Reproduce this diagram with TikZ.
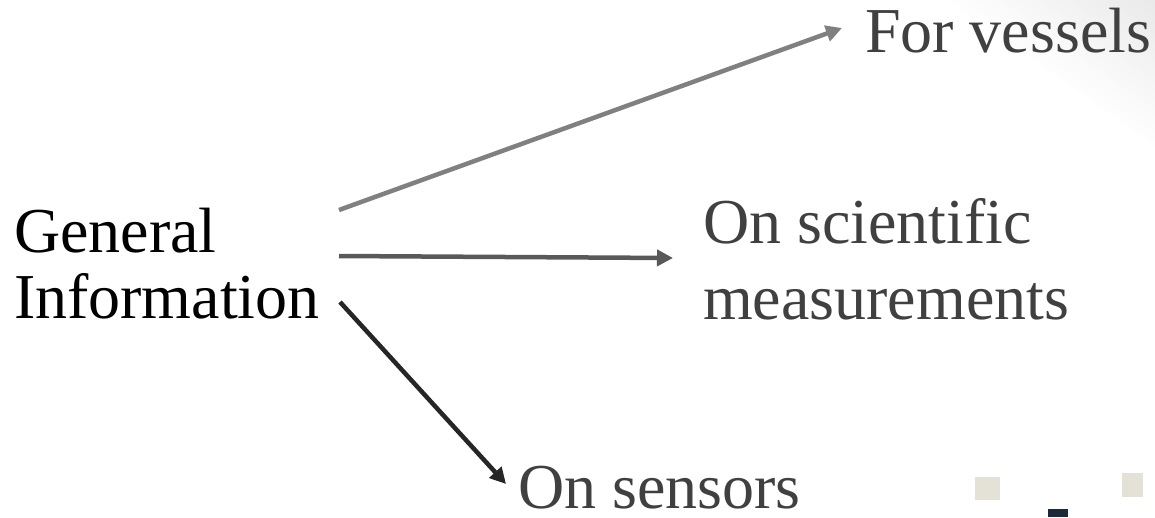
\documentclass[tikz,border=0pt]{standalone}
\usepackage{fontspec}
\setmainfont{Liberation Serif}
\usetikzlibrary{arrows.meta}
\definecolor{txtgray}{HTML}{404040}
\definecolor{arrA}{HTML}{808080}
\definecolor{arrB}{HTML}{595959}
\definecolor{arrC}{HTML}{262626}
\definecolor{beigesq}{HTML}{E4E2D6}
\definecolor{navysq}{HTML}{1C2A38}
\tikzset{
  lbl/.style={inner sep=0pt, outer sep=0pt, anchor=base west, align=left, text=txtgray},
  bigfont/.style={font=\fontsize{64}{76}\selectfont},
  conn/.style={line width=4.5pt, -{Triangle[length=16pt,width=16pt]}},
}
\begin{document}
\begin{tikzpicture}[x=1pt,y=-1pt]
\useasboundingbox (0,0) rectangle (1155,517);
% background corner gradient (bands parallel to the diagonal)
\begin{scope}
  \clip (0,0) rectangle (1155,517);
  \foreach \i in {0,...,39}{
    \pgfmathsetmacro{\ta}{\i*130/40}
    \pgfmathsetmacro{\tb}{(\i+1)*130/40+0.6}
    \pgfmathsetmacro{\sh}{9*(\i+0.5)/40}
    \fill[black!\sh]
      ({1048+\ta*0.575-500*0.818},{75-\ta*0.818-500*0.575}) --
      ({1048+\ta*0.575+500*0.818},{75-\ta*0.818+500*0.575}) --
      ({1048+\tb*0.575+500*0.818},{75-\tb*0.818+500*0.575}) --
      ({1048+\tb*0.575-500*0.818},{75-\tb*0.818-500*0.575}) -- cycle;
  }
\end{scope}
% background squares
\fill[beigesq] (975,477) rectangle (1000,500);
\fill[beigesq] (1122,473) rectangle (1143,497);
\fill[navysq] (1048,509) rectangle (1068,517);
% texts
\node[lbl, text=black, font=\fontsize{64}{66}\selectfont] (gi) at (14,318) {General\\Information};
\node[lbl, bigfont] (fv) at (865,52) {For vessels};
\node[lbl, bigfont] (sm) at (703,319) {On scientific\\measurements};
\node[lbl, bigfont] (os) at (518,508) {On sensors};
% connector ends
\coordinate (s1) at (339,210);
\coordinate (e1) at (842,28);
\coordinate (s2) at (339,256);
\coordinate (e2) at (673,258);
\coordinate (s3) at (340,302);
\coordinate (e3) at (506,484);
\draw[conn, arrA] (s1) -- (e1);
\draw[conn, arrB] (s2) -- (e2);
\draw[conn, arrC] (s3) -- (e3);
\end{tikzpicture}
\end{document}
